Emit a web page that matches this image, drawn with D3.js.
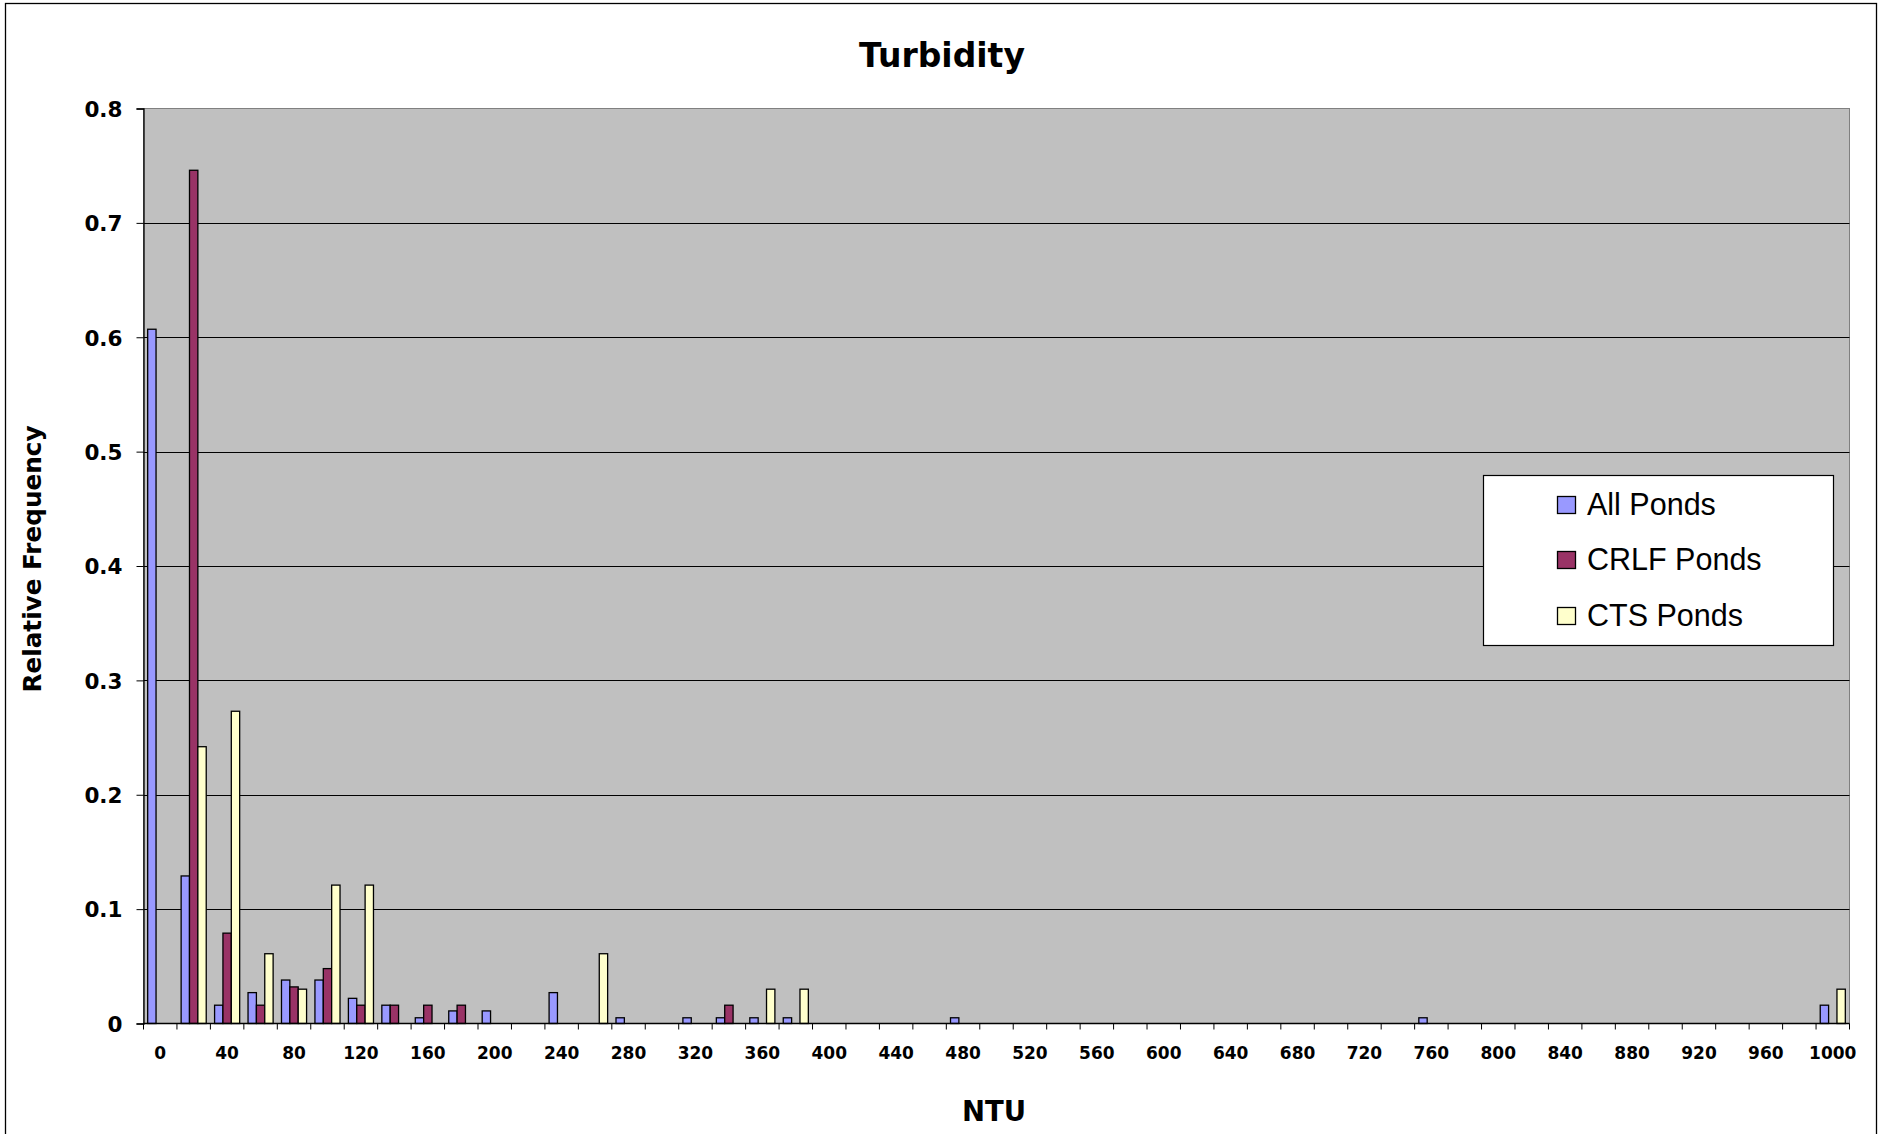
<!DOCTYPE html>
<html>
<head>
<meta charset="utf-8">
<script src="https://cdn.jsdelivr.net/npm/d3@7"></script>
<style>
  html, body { margin: 0; padding: 0; background: #ffffff; }
  svg { display: block; }
</style>
</head>
<body>
<svg id="chart" width="1886" height="1134"></svg>
<script>
// ---------------- DATA ----------------
const categories = [0,20,40,60,80,100,120,140,160,180,200,220,240,260,280,300,320,340,360,380,400,420,440,460,480,500,520,540,560,580,600,620,640,660,680,700,720,740,760,780,800,820,840,860,880,900,920,940,960,980,1000];
const seriesNames = ["All Ponds", "CRLF Ponds", "CTS Ponds"];
const allPonds  = [0.607,0.129,0.016,0.027,0.038,0.038,0.022,0.016,0.005,0.011,0.011,0,0.027,0,0.005,0,0.005,0.005,0.005,0.005,0,0,0,0,0.005,0,0,0,0,0,0,0,0,0,0,0,0,0,0.005,0,0,0,0,0,0,0,0,0,0,0,0.016];
const crlfPonds = [0,0.746,0.079,0.016,0.032,0.048,0.016,0.016,0.016,0.016,0,0,0,0,0,0,0,0.016,0,0,0,0,0,0,0,0,0,0,0,0,0,0,0,0,0,0,0,0,0,0,0,0,0,0,0,0,0,0,0,0,0];
const ctsPonds  = [0,0.242,0.273,0.061,0.030,0.121,0.121,0,0,0,0,0,0,0.061,0,0,0,0,0.030,0.030,0,0,0,0,0,0,0,0,0,0,0,0,0,0,0,0,0,0,0,0,0,0,0,0,0,0,0,0,0,0,0.030];
const yTicks = [0,0.1,0.2,0.3,0.4,0.5,0.6,0.7,0.8];
const xTickLabels = [0,40,80,120,160,200,240,280,320,360,400,440,480,520,560,600,640,680,720,760,800,840,880,920,960,1000];
const seriesColors = ["#9999FF", "#993366", "#FFFFCC"];

// ---------------- LAYOUT ----------------
const svg = d3.select("#chart");
const plot = { left: 143.5, right: 1849.5, top: 108.5, bottom: 1023.5 };
const boldFont = "'DejaVu Sans', Verdana, sans-serif";
const legendFont = "'Liberation Sans', Arial, sans-serif";

// outer chart border
svg.append("rect")
  .attr("x", 5.5).attr("y", 3.5)
  .attr("width", 1871).attr("height", 1140)
  .attr("fill", "#ffffff").attr("stroke", "#000000").attr("stroke-width", 1.3);

const x0 = d3.scaleBand().domain(categories).range([plot.left, plot.right]).paddingInner(0).paddingOuter(0);
const cw = x0.bandwidth();
const x1 = d3.scaleBand().domain(seriesNames).range([cw / 8, cw * 7 / 8]).padding(0);
const y = d3.scaleLinear().domain([0, 0.8]).range([plot.bottom, plot.top]);

// plot background
svg.append("rect")
  .attr("x", plot.left).attr("y", plot.top)
  .attr("width", plot.right - plot.left).attr("height", plot.bottom - plot.top)
  .attr("fill", "#C0C0C0").attr("stroke", "#808080").attr("stroke-width", 1);

// gridlines
svg.append("g").selectAll("line")
  .data(yTicks.filter(d => d > 0 && d < 0.8))
  .join("line")
  .attr("x1", plot.left).attr("x2", plot.right)
  .attr("y1", d => Math.round(y(d)) + 0.5).attr("y2", d => Math.round(y(d)) + 0.5)
  .attr("stroke", "#000000").attr("stroke-width", 1);

// bars
const series = [allPonds, crlfPonds, ctsPonds];
const barData = [];
series.forEach((vals, si) => {
  vals.forEach((v, ci) => {
    if (v > 0) barData.push({ cat: categories[ci], name: seriesNames[si], value: v, color: seriesColors[si] });
  });
});
svg.append("g").selectAll("rect")
  .data(barData)
  .join("rect")
  .attr("x", d => x0(d.cat) + x1(d.name))
  .attr("y", d => y(d.value))
  .attr("width", x1.bandwidth())
  .attr("height", d => y(0) - y(d.value))
  .attr("fill", d => d.color)
  .attr("stroke", "#000000").attr("stroke-width", 1.3);

// Y axis
const yAxis = d3.axisLeft(y).tickValues(yTicks).tickSize(7).tickPadding(14)
  .tickFormat(d => d === 0 ? "0" : d3.format(".1f")(d));
const yG = svg.append("g").attr("transform", `translate(${plot.left},0)`).call(yAxis);
yG.select(".domain").attr("stroke", "#000").attr("stroke-width", 1.3);
yG.selectAll(".tick line").attr("stroke", "#000");
yG.selectAll(".tick text")
  .attr("font-family", boldFont).attr("font-weight", "bold").attr("font-size", 21.5)
  .attr("fill", "#000").attr("dy", "0.36em");

// X axis: ticks at category boundaries
const boundaries = categories.map(c => x0(c)).concat([plot.right]);
const xG = svg.append("g");
xG.append("line")
  .attr("x1", plot.left).attr("x2", plot.right)
  .attr("y1", plot.bottom).attr("y2", plot.bottom)
  .attr("stroke", "#000").attr("stroke-width", 1.3);
xG.selectAll("line.tk").data(boundaries).join("line").attr("class", "tk")
  .attr("x1", d => d).attr("x2", d => d)
  .attr("y1", plot.bottom).attr("y2", plot.bottom + 6)
  .attr("stroke", "#000").attr("stroke-width", 1);
xG.selectAll("text").data(xTickLabels).join("text")
  .attr("x", d => x0(d) + cw / 2)
  .attr("y", plot.bottom + 35)
  .attr("text-anchor", "middle")
  .attr("font-family", boldFont).attr("font-weight", "bold").attr("font-size", 17)
  .attr("fill", "#000")
  .text(d => d);

// Title
svg.append("text")
  .attr("x", 942).attr("y", 67)
  .attr("text-anchor", "middle")
  .attr("font-family", boldFont).attr("font-weight", "bold").attr("font-size", 33)
  .attr("fill", "#000").text("Turbidity");

// Axis titles
svg.append("text")
  .attr("x", 994).attr("y", 1121)
  .attr("text-anchor", "middle")
  .attr("font-family", boldFont).attr("font-weight", "bold").attr("font-size", 27.5)
  .attr("fill", "#000").text("NTU");

svg.append("text")
  .attr("transform", "translate(41,559) rotate(-90)")
  .attr("text-anchor", "middle")
  .attr("font-family", boldFont).attr("font-weight", "bold").attr("font-size", 24.7)
  .attr("fill", "#000").text("Relative Frequency");

// Legend
const lg = svg.append("g");
lg.append("rect")
  .attr("x", 1483.5).attr("y", 475.5).attr("width", 350).attr("height", 170)
  .attr("fill", "#ffffff").attr("stroke", "#000").attr("stroke-width", 1.2);
const legendY = [505, 560, 616];
seriesNames.forEach((name, i) => {
  lg.append("rect")
    .attr("x", 1557.5).attr("y", legendY[i] - 8.5).attr("width", 18).attr("height", 17)
    .attr("fill", seriesColors[i]).attr("stroke", "#000").attr("stroke-width", 1.3);
  lg.append("text")
    .attr("x", 1587).attr("y", legendY[i] + 10)
    .attr("font-family", legendFont).attr("font-size", 30.5)
    .attr("fill", "#000").text(name);
});
</script>
</body>
</html>
